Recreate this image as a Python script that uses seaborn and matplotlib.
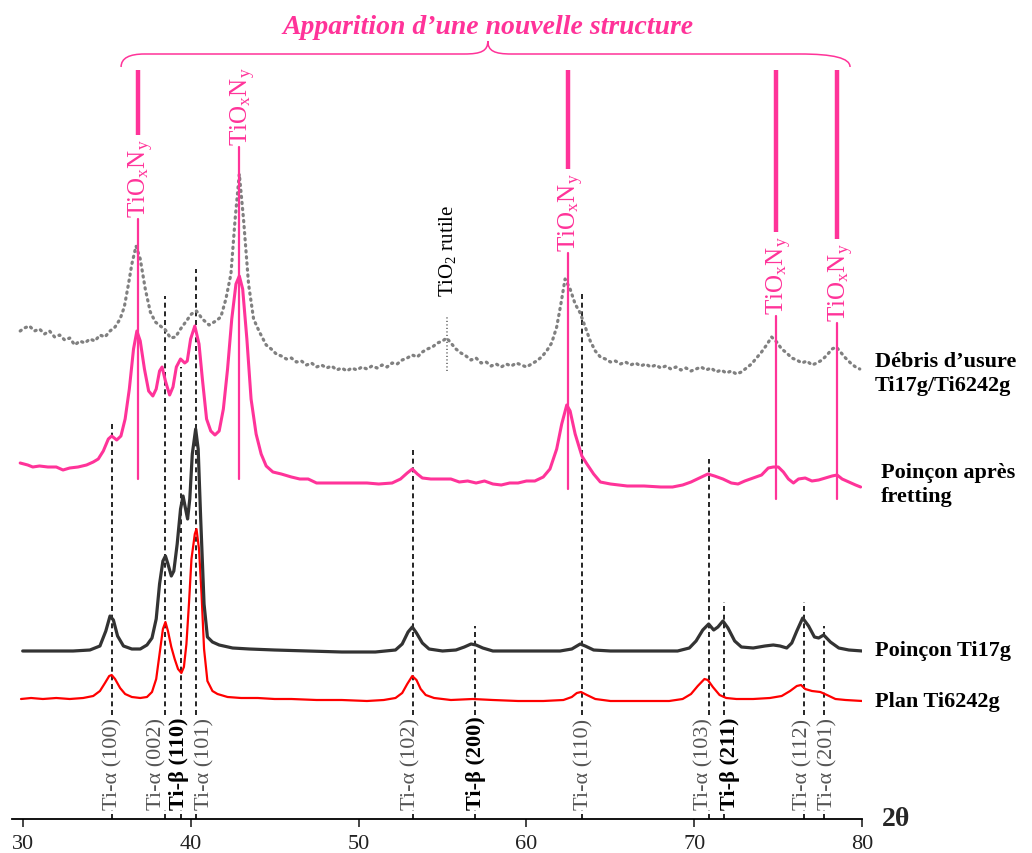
import numpy as np
import pandas as pd
import seaborn as sns
import matplotlib.pyplot as plt
from matplotlib.path import Path
from matplotlib.patches import PathPatch
from matplotlib.transforms import offset_copy

# XRD patterns (2theta, intensity in arbitrary units, already offset)
tt_plan = [29.9, 30.5, 31.2, 32, 32.8, 33.6, 34.2, 34.6, 34.9, 35.15, 35.3, 35.5, 35.8, 36.1, 36.5, 37, 37.4,
           37.7, 37.95, 38.15, 38.35, 38.5, 38.65, 38.85, 39.05, 39.25, 39.45, 39.6, 39.75, 39.9, 40.05, 40.25,
           40.35, 40.5, 40.65, 40.8, 41.0, 41.3, 41.6, 42.2, 43, 44, 45, 46, 47.5, 49, 50.5, 51.5, 52.2, 52.6,
           52.9, 53.2, 53.45, 53.7, 54, 54.5, 55.5, 56.8, 58, 59.5, 61, 62.2, 62.7, 63, 63.25, 63.6, 64.1, 65,
           67, 68.5, 69.3, 69.8, 70.2, 70.6, 70.8, 71.1, 71.5, 71.9, 72.5, 73.5, 74.5, 75.2, 75.7, 76.1, 76.35,
           76.6, 77, 77.5, 77.9, 78.4, 79, 80]
i_plan = [120, 121, 120, 121, 120, 121, 123, 128, 136, 143, 144, 140, 131, 125, 122, 121, 122,
          127, 140, 165, 190, 197, 188, 172, 160, 150, 146, 152, 175, 215, 260, 285,
          290, 270, 225, 170, 138, 128, 125, 122, 121, 121, 120, 120, 119, 119, 118, 119, 121, 126,
          135, 143, 139, 130, 124, 121, 119, 120, 119, 118, 118, 119, 122, 126, 127, 124, 120, 118,
          118, 118, 120, 125, 133, 140, 139, 132, 124, 121, 120, 120, 121, 123, 128, 133, 134,
          130, 128, 127, 124, 120, 119, 118]

tt_ti17 = [30, 31, 32, 33, 34, 34.6, 34.95, 35.2, 35.4, 35.65, 36, 36.5, 37, 37.4, 37.7, 37.95, 38.15, 38.35,
           38.5, 38.65, 38.85, 39.0, 39.2, 39.4, 39.55, 39.7, 39.82, 39.95, 40.1, 40.3, 40.45, 40.6, 40.8, 41.0,
           41.3, 41.7, 42.5, 43.5, 45, 47, 49, 51, 52.2, 52.6, 52.95, 53.2, 53.45, 53.8, 54.2, 55, 55.8, 56.3,
           56.7, 57.0, 57.4, 58, 60, 62, 62.7, 63.2, 63.5, 64.0, 65, 67, 69, 69.7, 70.1, 70.5, 70.85, 71.15,
           71.4, 71.7, 72.0, 72.4, 72.8, 73.5, 74.2, 74.7, 75.1, 75.5, 75.8, 76.1, 76.45, 76.8, 77.15, 77.4,
           77.7, 78.1, 78.6, 79.2, 80]
i_ti17 = [168, 168, 168, 168, 169, 173, 188, 203, 199, 183, 173, 170, 170, 174, 181, 200, 235, 258,
          263, 255, 243, 248, 275, 310, 323, 310, 300, 320, 365, 390, 370, 300, 215, 182,
          177, 174, 171, 170, 169, 168, 167, 167, 169, 175, 187, 192, 186, 176, 170, 168, 169, 172,
          175, 174, 171, 168, 168, 168, 170, 175, 173, 169, 168, 168, 168, 171, 178, 189, 195, 189,
          192, 198, 191, 178, 172, 171, 173, 174, 173, 171, 176, 188, 201, 193, 182, 181,
          184, 177, 171, 169, 168]

tt_fret = [29.85, 30.3, 30.6, 31, 31.5, 32, 32.4, 32.8, 33.3, 33.8, 34.2, 34.5, 34.8, 35.1, 35.3, 35.6, 35.85,
           36.1, 36.35, 36.6, 36.8, 37.0, 37.25, 37.5, 37.75, 37.95, 38.15, 38.3, 38.5, 38.75, 38.95, 39.15,
           39.4, 39.65, 39.8, 40.0, 40.25, 40.5, 40.7, 40.95, 41.2, 41.45, 41.7, 41.95, 42.2, 42.45, 42.7,
           42.9, 43.1, 43.35, 43.6, 43.9, 44.2, 44.5, 44.9, 45.4, 46, 46.5, 47, 47.5, 48.5, 49.5, 50.5, 51.2,
           52, 52.5, 52.9, 53.2, 53.5, 53.8, 54.3, 55, 55.5, 56, 56.5, 57, 57.5, 58, 58.5, 59, 59.5, 60, 60.5,
           61, 61.4, 61.8, 62.1, 62.4, 62.6, 62.9, 63.3, 63.6, 64, 64.4, 65, 66, 67, 68, 68.7, 69.3, 69.8,
           70.3, 70.8, 71.2, 71.7, 72.2, 72.6, 73.0, 73.5, 74.0, 74.4, 74.7, 75.0, 75.3, 75.6, 75.9, 76.2,
           76.6, 77.0, 77.4, 77.8, 78.2, 78.5, 78.8, 79.2, 79.6, 79.9]
i_fret = [356, 354, 352, 353, 352, 352, 349, 351, 352, 354, 357, 360, 368, 380, 383, 379, 383,
          400, 430, 470, 488, 478, 450, 428, 423, 430, 448, 452, 438, 424, 432, 452,
          460, 456, 458, 480, 493, 475, 440, 400, 388, 384, 388, 410, 450, 500, 535,
          543, 530, 480, 420, 385, 365, 353, 347, 345, 342, 340, 340, 336, 336, 336, 336, 335,
          336, 340, 346, 350, 345, 341, 340, 340, 340, 337, 338, 336, 338, 335, 334, 336, 336, 338, 338,
          342, 350, 370, 395, 414, 408, 385, 363, 355, 345, 337, 335, 333, 333, 332, 332, 334, 337,
          341, 345, 343, 340, 336, 335, 338, 341, 344, 351, 352, 352, 347, 340, 336, 340,
          341, 338, 339, 341, 343, 344, 340, 337, 334, 332]

# wear debris pattern as (2theta, intensity) pairs, noisy so sampled densely
debris = [(29.85, 488), (30.1, 491), (30.4, 493), (30.7, 488), (31.0, 490), (31.3, 485), (31.6, 488),
          (31.9, 482), (32.2, 484), (32.5, 479), (32.8, 481), (33.1, 474), (33.4, 478), (33.7, 476),
          (34.0, 480), (34.3, 478), (34.6, 484), (34.9, 482), (35.2, 488), (35.5, 492), (35.8, 500),
          (36.05, 512), (36.3, 535), (36.5, 555), (36.75, 573), (37.0, 560), (37.3, 530), (37.6, 507),
          (37.9, 497), (38.2, 493), (38.5, 489), (38.8, 481), (39.1, 482), (39.4, 490), (39.7, 497),
          (40.05, 505), (40.35, 508), (40.7, 500), (41.1, 494), (41.5, 498), (41.8, 502), (42.1, 520),
          (42.4, 545), (42.65, 600), (42.9, 645), (43.15, 600), (43.45, 535), (43.75, 500), (44.1, 487),
          (44.5, 474), (44.8, 470), (45.1, 465), (45.4, 463), (45.7, 460), (46.0, 461), (46.3, 457),
          (46.6, 458), (46.9, 454), (47.2, 456), (47.5, 452), (47.8, 454), (48.1, 451), (48.4, 453),
          (48.7, 449), (49.0, 451), (49.3, 448), (49.6, 451), (49.9, 449), (50.2, 452), (50.5, 450),
          (50.8, 453), (51.1, 451), (51.4, 454), (51.7, 452), (52.0, 456), (52.3, 455), (52.6, 459),
          (52.9, 461), (53.2, 464), (53.5, 462), (53.8, 467), (54.1, 470), (54.4, 472), (54.7, 476),
          (55.0, 478), (55.25, 481), (55.5, 476), (55.8, 470), (56.1, 466), (56.4, 463), (56.7, 459),
          (57.0, 461), (57.3, 456), (57.6, 457), (57.9, 453), (58.2, 455), (58.5, 452), (58.8, 455),
          (59.1, 453), (59.4, 456), (59.7, 454), (60.0, 452), (60.3, 455), (60.6, 458), (60.9, 462),
          (61.2, 468), (61.5, 476), (61.8, 492), (62.05, 515), (62.3, 540), (62.6, 530), (62.9, 515),
          (63.2, 506), (63.5, 492), (63.8, 478), (64.1, 468), (64.4, 462), (64.7, 460), (65.0, 457),
          (65.3, 458), (65.6, 455), (65.9, 457), (66.2, 454), (66.5, 456), (66.8, 453), (67.1, 455),
          (67.4, 452), (67.7, 454), (68.0, 451), (68.3, 453), (68.6, 450), (68.9, 452), (69.2, 449),
          (69.5, 451), (69.8, 448), (70.1, 450), (70.4, 452), (70.7, 449), (71.0, 451), (71.3, 447),
          (71.6, 449), (71.9, 446), (72.2, 448), (72.5, 445), (72.8, 447), (73.1, 451), (73.4, 455),
          (73.7, 461), (74.0, 467), (74.3, 474), (74.6, 482), (74.9, 477), (75.2, 470), (75.5, 466),
          (75.8, 461), (76.1, 459), (76.4, 456), (76.7, 458), (77.0, 454), (77.3, 456), (77.6, 459),
          (77.9, 464), (78.2, 470), (78.45, 472), (78.7, 467), (79.0, 461), (79.3, 456), (79.6, 452),
          (79.85, 450)]
tt_debris = [p[0] for p in debris]
i_debris = [p[1] for p in debris]

# phase markers
alpha_pos = [35.3, 38.5, 40.3, 53.25, 63.33, 70.9, 76.53, 77.72]
alpha_hkl = ['(100)', '(002)', '(101)', '(102)', '(110)', '(103)', '(112)', '(201)']
alpha_top = [398, 523, 550, 370, 525, 360, 217, 193]
beta_pos = [39.45, 56.92, 71.77]
beta_hkl = ['(110)', '(200)', '(211)']
beta_top = [452, 193, 217]
tion_pos = [36.85, 42.9, 62.45, 74.85, 78.5]
tion_low = [340, 340, 330, 320, 320]
tion_lab = [602, 674, 568, 505, 498]
rutile_pos = 55.25

PINK = '#ff3399'

sns.set_style('white')
plt.rcParams['font.family'] = ['Liberation Serif', 'DejaVu Serif']
plt.rcParams['mathtext.fontset'] = 'custom'
plt.rcParams['mathtext.rm'] = 'Liberation Serif'
plt.rcParams['mathtext.it'] = 'Liberation Serif:italic'
plt.rcParams['mathtext.bf'] = 'Liberation Serif:bold'

fig = plt.figure(figsize=(10.32, 8.54), dpi=100)
ax = fig.add_axes([11.7 / 1032, 34 / 854, 850.6 / 1032, 820 / 854])

curves = [(tt_plan, i_plan, '#ff0000', 1.6, '-'),
          (tt_ti17, i_ti17, '#333333', 2.3, '-'),
          (tt_fret, i_fret, PINK, 2.2, '-'),
          (tt_debris, i_debris, '#808080', 2.3, (0, (0.4, 1.5)))]
for tt, inten, col, lw, ls in curves:
    d = pd.DataFrame({'tt': tt, 'I': inten})
    sns.lineplot(data=d, x='tt', y='I', color=col, lw=lw, linestyle=ls, ax=ax, zorder=3)
    ax.lines[-1].set_dash_capstyle('round')

ax.set_xlim(29.345, 80)
ax.set_ylim(0, 820)
ax.set_xlabel('')
ax.set_ylabel('')
ax.set_yticks([])
ax.set_xticks([30, 40, 50, 60, 70, 80])
ax.tick_params(axis='x', direction='out', length=6, width=1.2, labelsize=16, pad=5, bottom=True,
               labelcolor='#222222')
for s in ['top', 'right', 'left']:
    ax.spines[s].set_visible(False)
ax.spines['bottom'].set_linewidth(1.3)
ax.spines['bottom'].set_color('black')

dash = (0, (3, 2.2))
off = {'(100)': 1, '(002)': -9, '(101)': 9, '(102)': -2, '(110)': 1, '(103)': -6, '(112)': -1, '(201)': 4}
for x, hkl, top in zip(alpha_pos, alpha_hkl, alpha_top):
    ax.plot([x, x], [0, top], color='black', lw=1.2, linestyle=dash, zorder=2)
    tr = offset_copy(ax.transData, fig=fig, x=off[hkl] * 0.72, y=0, units='points')
    ax.text(x, 10, f'Ti-α {hkl}', rotation=90, rotation_mode='anchor', ha='left', va='center',
            fontsize=16, color='#555555', transform=tr, zorder=5,
            bbox=dict(fc='white', ec='none', pad=0.5))
boff = {'(110)': -2, '(200)': 1, '(211)': 6}
for x, hkl, top in zip(beta_pos, beta_hkl, beta_top):
    ax.plot([x, x], [0, top], color='black', lw=1.2, linestyle=dash, zorder=2)
    tr = offset_copy(ax.transData, fig=fig, x=boff[hkl] * 0.72, y=0, units='points')
    ax.text(x, 10, f'Ti-β {hkl}', rotation=90, rotation_mode='anchor', ha='left', va='center',
            fontsize=16, color='black', fontweight='bold', transform=tr, zorder=5,
            bbox=dict(fc='white', ec='none', pad=0.5))

# TiOxNy markers
lab_len = 82
for x, low, lab in zip(tion_pos, tion_low, tion_lab):
    ax.plot([x, x], [low, lab - 2], color=PINK, lw=1.6, zorder=4)
    if lab + lab_len < 749:
        ax.plot([x, x], [lab + lab_len, 749], color=PINK, lw=3.2, zorder=4, solid_capstyle='butt')
    tr = offset_copy(ax.transData, fig=fig, x=6.5, y=0, units='points')
    ax.text(x, lab, r'TiO$_\mathrm{x}$N$_\mathrm{y}$', rotation=90, rotation_mode='anchor',
            ha='left', va='baseline', fontsize=18, color=PINK, transform=tr, zorder=5)

# TiO2 rutile
ax.plot([rutile_pos, rutile_pos], [448, 503], color='#808080', lw=1.4, linestyle=(0, (0.6, 1.2)), zorder=2)
tr = offset_copy(ax.transData, fig=fig, x=4.5, y=0, units='points')
ax.text(rutile_pos, 523, r'TiO$_\mathrm{2}$ rutile', rotation=90, rotation_mode='anchor',
        ha='left', va='baseline', fontsize=15, color='black', transform=tr)

# curly brace over the new phase
xa, xb, xm = 35.86, 79.27, 57.7
yb, yh, yt = 752, 765, 778
verts = [(xa, yb), (xa, yh - 4), (xa + 0.5, yh), (xa + 1.4, yh),
         (xm - 1.4, yh), (xm - 0.4, yh), (xm, yh + 3), (xm, yt),
         (xm, yh + 3), (xm + 0.4, yh), (xm + 1.4, yh),
         (xb - 3.0, yh), (xb - 1.0, yh), (xb, yh - 4), (xb, yb)]
codes = [Path.MOVETO, Path.CURVE4, Path.CURVE4, Path.CURVE4,
         Path.LINETO, Path.CURVE4, Path.CURVE4, Path.CURVE4,
         Path.CURVE4, Path.CURVE4, Path.CURVE4,
         Path.LINETO, Path.CURVE4, Path.CURVE4, Path.CURVE4]
ax.add_patch(PathPatch(Path(verts, codes), fc='none', ec=PINK, lw=1.1, clip_on=False))
ax.text(xm, 793, 'Apparition d’une nouvelle structure', ha='center', va='center',
        fontsize=20, color=PINK, fontweight='bold', fontstyle='italic')

# series labels
lab_kw = dict(fontsize=16, fontweight='bold', color='black', ha='left', va='center', linespacing=1.3)
ax.text(80.76, 446, 'Débris d’usure\nTi17g/Ti6242g', **lab_kw)
ax.text(81.12, 335, 'Poinçon après\nfretting', **lab_kw)
ax.text(80.76, 169, 'Poinçon Ti17g', **lab_kw)
ax.text(80.76, 118, 'Plan Ti6242g', **lab_kw)
ax.text(81.16, 0, '2θ', fontsize=20, fontweight='bold', ha='left', va='center')

fig.savefig('out.png', dpi=100)
